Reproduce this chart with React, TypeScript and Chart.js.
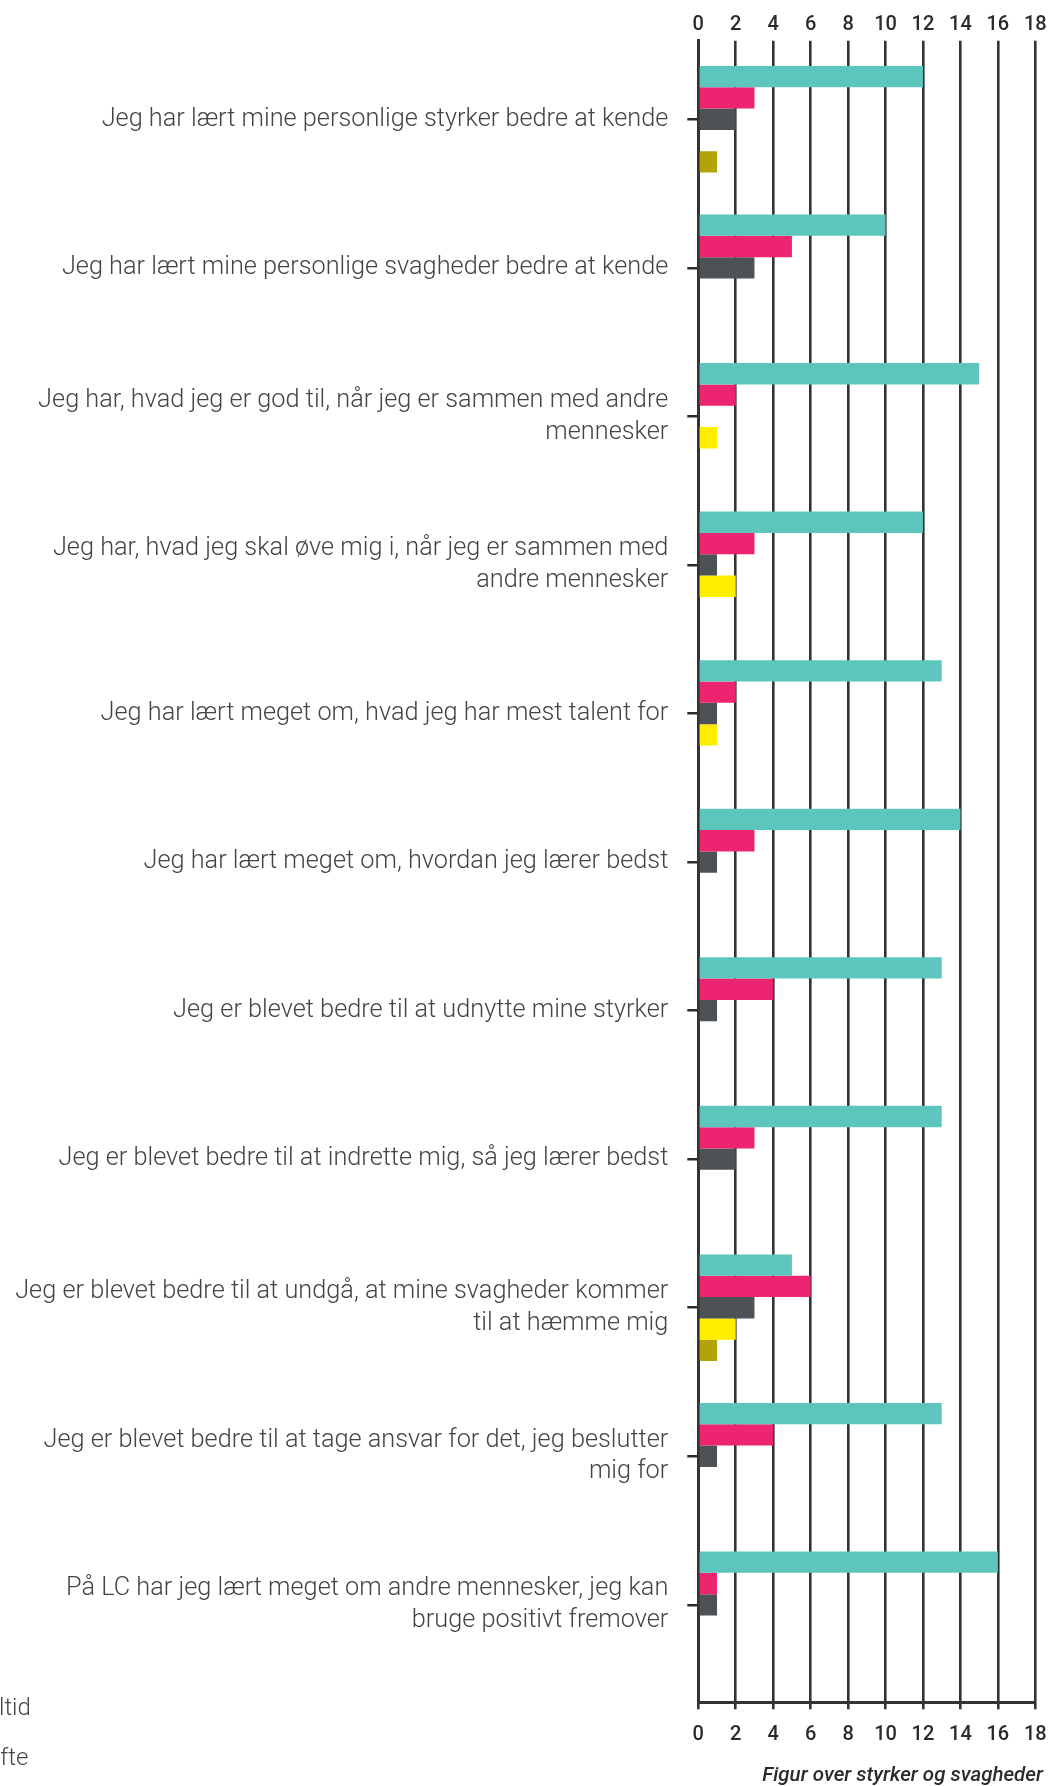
import React, { useEffect, useRef } from "react";
import { Chart, registerables } from "chart.js";

Chart.register(...registerables);

// ---- data ----
const categories: (string | string[])[] = [
  "Jeg har lært mine personlige styrker bedre at kende",
  "Jeg har lært mine personlige svagheder bedre at kende",
  ["Jeg har, hvad jeg er god til, når jeg er sammen med andre", "mennesker"],
  ["Jeg har, hvad jeg skal øve mig i, når jeg er sammen med", "andre mennesker"],
  "Jeg har lært meget om, hvad jeg har mest talent for",
  "Jeg har lært meget om, hvordan jeg lærer bedst",
  "Jeg er blevet bedre til at udnytte mine styrker",
  "Jeg er blevet bedre til at indrette mig, så jeg lærer bedst",
  ["Jeg er blevet bedre til at undgå, at mine svagheder kommer", "til at hæmme mig"],
  ["Jeg er blevet bedre til at tage ansvar for det, jeg beslutter", "mig for"],
  ["På LC har jeg lært meget om andre mennesker, jeg kan", "bruge positivt fremover"],
];

const seriesNames = ["Altid", "Ofte", "Nogle gange", "Sjældent", "Aldrig"];

const altid = [12, 10, 15, 12, 13, 14, 13, 13, 5, 13, 16];
const ofte = [3, 5, 2, 3, 2, 3, 4, 3, 6, 4, 1];
const nogleGange = [2, 3, 0, 1, 1, 1, 1, 2, 3, 1, 1];
const sjaeldent = [0, 0, 1, 2, 1, 0, 0, 0, 2, 0, 0];
const aldrig = [1, 0, 0, 0, 0, 0, 0, 0, 1, 0, 0];

const seriesColors = ["#5CC5BC", "#ED2570", "#4D5256", "#FFED00", "#B4A308"];

const xMin = 0;
const xMax = 18;
const xStep = 2;

const caption = "Figur over styrker og svagheder";

// ---- layout / style ----
const FONT = "Roboto, 'Open Sans', 'DejaVu Sans', sans-serif";
const CANVAS_W = 1049;
const CANVAS_H = 1786;
const PLOT_LEFT = 698.3;
const RIGHT_INSET = 13.7;
const GRID_COLOR = "#333333";

export default function App() {
  const ref = useRef<HTMLCanvasElement | null>(null);

  useEffect(() => {
    if (!ref.current) return;
    const series = [altid, ofte, nogleGange, sjaeldent, aldrig];
    const tickFont = { family: FONT, size: 20, weight: 500 as const, lineHeight: 1.2 };
    const chart = new Chart(ref.current, {
      type: "bar",
      data: {
        datasets: series.map((vals, si) => ({
          label: seriesNames[si],
          data: vals.map((v, i) => ({ x: v, y: i })),
          backgroundColor: seriesColors[si],
          borderWidth: 0,
          categoryPercentage: 0.718,
          barPercentage: 1,
        })),
      },
      options: {
        indexAxis: "y",
        animation: false,
        responsive: true,
        maintainAspectRatio: false,
        layout: { padding: { top: 9.7, right: 6, bottom: 0, left: 0 } },
        plugins: {
          legend: { display: false },
          tooltip: { enabled: false },
          title: {
            display: true,
            text: caption,
            position: "bottom",
            align: "end",
            color: "#2b2b2b",
            font: { family: FONT, size: 20.5, style: "italic", weight: 500, lineHeight: 1.0 },
            padding: { top: 4.2, bottom: 0 },
          },
        },
        scales: {
          x: {
            type: "linear",
            position: "bottom",
            min: xMin,
            max: xMax,
            ticks: { stepSize: xStep, padding: 14, color: "#2b2b2b", font: tickFont, maxRotation: 0 },
            grid: { color: GRID_COLOR, lineWidth: 2.6, drawTicks: true, tickLength: 7 },
            border: { display: true, color: GRID_COLOR, width: 3 },
            afterFit: (s: any) => {
              s.paddingRight = RIGHT_INSET;
            },
          },
          x2: {
            type: "linear",
            position: "top",
            min: xMin,
            max: xMax,
            ticks: { stepSize: xStep, padding: 3.5, color: "#2b2b2b", font: tickFont, maxRotation: 0 },
            grid: { display: false, drawTicks: false },
            border: { display: false },
            afterFit: (s: any) => {
              s.paddingRight = RIGHT_INSET;
            },
          },
          y: {
            type: "linear",
            reverse: true,
            offset: false,
            min: -0.529,
            max: 10.656,
            afterBuildTicks: (s: any) => {
              s.ticks = categories.map((_, i) => ({ value: i }));
            },
            ticks: {
              autoSkip: false,
              padding: 19,
              color: "#444",
              font: { family: FONT, size: 25.3, weight: 300 as const, lineHeight: 1.25 },
              callback: (v: any) => categories[v as number] ?? "",
            },
            grid: {
              offset: false,
              drawOnChartArea: false,
              drawTicks: true,
              tickLength: 11,
              color: "#2b2b2b",
              lineWidth: 2.5,
            },
            border: { display: true, color: GRID_COLOR, width: 3 },
            afterFit: (s: any) => {
              s.width = PLOT_LEFT;
              s.paddingTop = 0;
              s.paddingBottom = 0;
            },
          },
        },
      } as any,
    });
    return () => chart.destroy();
  }, []);

  const legendCenters = seriesNames.map((_, i) => 1707 + i * 50);

  return (
    <div
      style={{
        position: "absolute",
        left: 0,
        top: 0,
        width: 1052,
        height: 1786,
        overflow: "hidden",
        background: "#fff",
      }}
    >
      <div style={{ position: "absolute", left: 0, top: 0, width: CANVAS_W, height: CANVAS_H }}>
        <canvas ref={ref} />
      </div>
      {seriesNames.map((name, i) => (
        <div
          key={name}
          style={{
            position: "absolute",
            left: -66,
            top: legendCenters[i] - 12,
            height: 24,
            display: "flex",
            alignItems: "center",
            whiteSpace: "nowrap",
            fontFamily: FONT,
            fontWeight: 300,
            fontSize: 24,
            lineHeight: "24px",
            color: "#444",
          }}
        >
          <span
            style={{
              display: "inline-block",
              width: 40,
              height: 14,
              background: seriesColors[i],
              marginRight: 10,
            }}
          />
          <span>{name}</span>
        </div>
      ))}
    </div>
  );
}
